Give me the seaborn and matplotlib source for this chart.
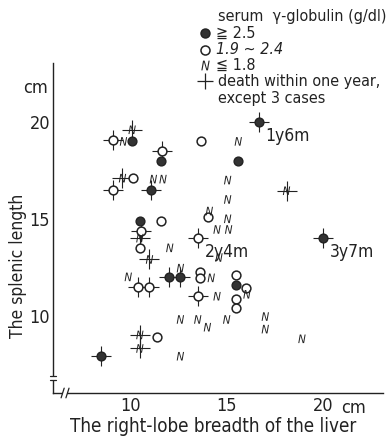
import matplotlib
matplotlib.use("Agg")
import matplotlib.pyplot as plt
import seaborn as sns
import pandas as pd
import numpy as np

sns.set_theme(style="white")
plt.rcParams['font.family'] = ['DejaVu Sans']
plt.rcParams['font.stretch'] = 'condensed'
plt.rcParams['mathtext.fontset'] = 'dejavusans'

# ---- data: (liver right-lobe breadth cm, splenic length cm, death-within-1y cross)
high_x = [10.1, 11.6, 15.6, 16.65, 11.1, 10.5, 12.0, 12.6, 15.5, 20.0, 8.5]
high_y = [19.0, 18.0, 18.0, 20.0, 16.5, 14.9, 12.0, 12.0, 11.6, 14.0, 7.9]
high_d = [0, 0, 0, 1, 1, 0, 1, 1, 0, 1, 1]

mid_x = [9.1, 11.65, 13.65, 10.15, 9.1, 11.6, 10.55, 10.5, 14.05, 13.5,
         10.4, 11.0, 13.6, 13.6, 15.5, 16.0, 15.5, 15.5, 13.5, 11.4]
mid_y = [19.05, 18.5, 19.0, 17.1, 16.5, 14.9, 14.35, 13.5, 15.1, 14.0,
         11.5, 11.5, 12.25, 11.95, 12.1, 11.45, 10.85, 10.4, 11.0, 8.9]
mid_d = [1, 1, 0, 0, 1, 0, 1, 0, 0, 1,
         1, 1, 0, 0, 0, 0, 0, 0, 1, 0]

low_x = [9.65, 10.1, 15.6, 9.6, 11.2, 11.7, 15.05, 15.05, 18.1, 14.1,
         15.05, 14.5, 15.1, 10.5, 12.05, 14.6, 11.0, 12.6, 9.9, 14.2,
         16.05, 14.5, 12.6, 13.5, 14.0, 15.0, 17.0, 17.0, 18.9, 10.5,
         10.5, 12.6]
low_y = [19.0, 19.6, 19.0, 17.1, 17.05, 17.05, 17.0, 16.0, 16.45, 15.4,
         15.0, 14.45, 14.45, 14.0, 13.5, 13.0, 12.9, 12.45, 12.0, 11.95,
         11.1, 11.0, 9.8, 9.8, 9.4, 9.8, 9.95, 9.3, 8.8, 9.0,
         8.3, 7.9]
low_d = [0, 1, 0, 1, 0, 0, 0, 0, 1, 0,
         0, 0, 0, 1, 0, 0, 1, 0, 0, 0,
         0, 0, 0, 0, 0, 0, 0, 0, 0, 1,
         1, 0]

annot_text = ["1y6m", "2y4m", "3y7m"]
annot_x = [16.65, 13.5, 20.0]
annot_y = [20.0, 14.0, 14.0]

x_ticklabels = ["10", "15", "20"]
y_ticklabels = ["10", "15", "20"]

df = pd.concat([
    pd.DataFrame({"x": high_x, "y": high_y, "d": high_d, "g": "high"}),
    pd.DataFrame({"x": mid_x, "y": mid_y, "d": mid_d, "g": "mid"}),
    pd.DataFrame({"x": low_x, "y": low_y, "d": low_d, "g": "low"}),
], ignore_index=True)

fig = plt.figure(figsize=(3.89, 4.38), dpi=100)
ax = fig.add_axes([53/389, 45/438, 330/389, 330/438])

ink = "#222222"
dead = df[df.d == 1]
sns.scatterplot(data=dead, x="x", y="y", marker="+", s=190, color=ink,
                linewidth=0.8, ax=ax, legend=False, zorder=2)
sns.scatterplot(data=df[df.g == "high"], x="x", y="y", marker="o", s=40,
                color="#333333", edgecolor=ink, linewidth=1.0, ax=ax,
                legend=False, zorder=3)
sns.scatterplot(data=df[df.g == "mid"], x="x", y="y", marker="o", s=40,
                facecolor="white", edgecolor=ink, linewidth=1.1, ax=ax,
                legend=False, zorder=3)
sns.scatterplot(data=df[df.g == "low"], x="x", y="y", marker=r"$\mathit{N}$",
                s=38, color=ink, edgecolor="none", linewidth=0, ax=ax,
                legend=False, zorder=3)

for t, x, y in zip(annot_text, annot_x, annot_y):
    ax.annotate(t, (x, y), xytext=(5, -10), textcoords="offset points",
                fontsize=12.5, color=ink, va="center", ha="left")

ax.set_xlim(6, 23.1)
ax.set_ylim(6, 23.05)
ax.set_xticks([10, 15, 20])
ax.set_xticklabels(x_ticklabels)
ax.set_yticks([10, 15, 20])
ax.set_yticklabels(y_ticklabels)
ax.set_xticks(np.arange(8, 24, 1), minor=True)
ax.set_yticks(np.arange(8, 24, 1), minor=True)
ax.tick_params(axis="both", which="both", direction="in", color=ink,
               labelsize=13, labelcolor=ink, width=0.9)
ax.tick_params(which="major", length=5, pad=3)
ax.tick_params(axis="y", which="major", pad=2)
ax.tick_params(which="minor", length=4)
for s in ["top", "right"]:
    ax.spines[s].set_visible(False)
for s in ["left", "bottom"]:
    ax.spines[s].set_color(ink)
    ax.spines[s].set_linewidth(1.0)

ax.set_xlabel("The right-lobe breadth of the liver", fontsize=13.5, color=ink)
ax.set_ylabel("The splenic length", fontsize=12.5, color=ink)
ax.yaxis.set_label_coords(-0.08, 0.385)
ax.xaxis.set_label_coords(0.485, -0.073)

ax.text(21.55, 5.22, "cm", fontsize=13, color=ink, ha="center", va="center",
        clip_on=False)
ax.text(5.75, 21.75, "cm", fontsize=13, color=ink, ha="right", va="center",
        clip_on=False)

# axis breaks
ax.plot([6, 6], [6.65, 6.9], color="white", lw=3, clip_on=False, zorder=5,
        solid_capstyle="butt")
for yy in [6.65, 6.9]:
    ax.plot([5.82, 6.18], [yy, yy], color=ink, lw=0.9, clip_on=False, zorder=6)
ax.plot([6.5, 6.75], [6, 6], color="white", lw=3, clip_on=False, zorder=5,
        solid_capstyle="butt")
for xx in [6.5, 6.75]:
    ax.plot([xx - 0.08, xx + 0.08], [5.75, 6.25], color=ink, lw=0.9,
            clip_on=False, zorder=6)

# legend (manual, figure coordinates)
def fx(px):
    return px / 389
def fy(py):
    return 1 - py / 438

lfs = 11.5
fig.text(fx(218), fy(17), "serum  γ-globulin (g/dl)", fontsize=lfs, color=ink,
         va="center", ha="left")
fig.text(fx(216), fy(33), "≧ 2.5", fontsize=lfs, color=ink, va="center")
fig.text(fx(216), fy(49), "1.9 ~ 2.4", fontsize=lfs, color=ink, va="center",
         style="italic")
fig.text(fx(216), fy(65), "≦ 1.8", fontsize=lfs, color=ink, va="center")
fig.text(fx(218), fy(82), "death within one year,", fontsize=lfs, color=ink,
         va="center")
fig.text(fx(218), fy(99), "except 3 cases", fontsize=lfs, color=ink,
         va="center")
fig.lines.append(plt.Line2D([fx(205)], [fy(33)], marker="o", markersize=6.5,
                            color="#333333", mec=ink, transform=fig.transFigure))
fig.lines.append(plt.Line2D([fx(205)], [fy(50)], marker="o", markersize=6.5,
                            mfc="white", mec=ink, mew=1.1,
                            transform=fig.transFigure))
fig.lines.append(plt.Line2D([fx(205)], [fy(65)], marker=r"$\mathit{N}$",
                            markersize=7, color=ink, mew=0,
                            transform=fig.transFigure))
fig.lines.append(plt.Line2D([fx(205)], [fy(81)], marker="+", markersize=12,
                            color=ink, mew=0.9, transform=fig.transFigure))

fig.savefig("out.png", dpi=100)
